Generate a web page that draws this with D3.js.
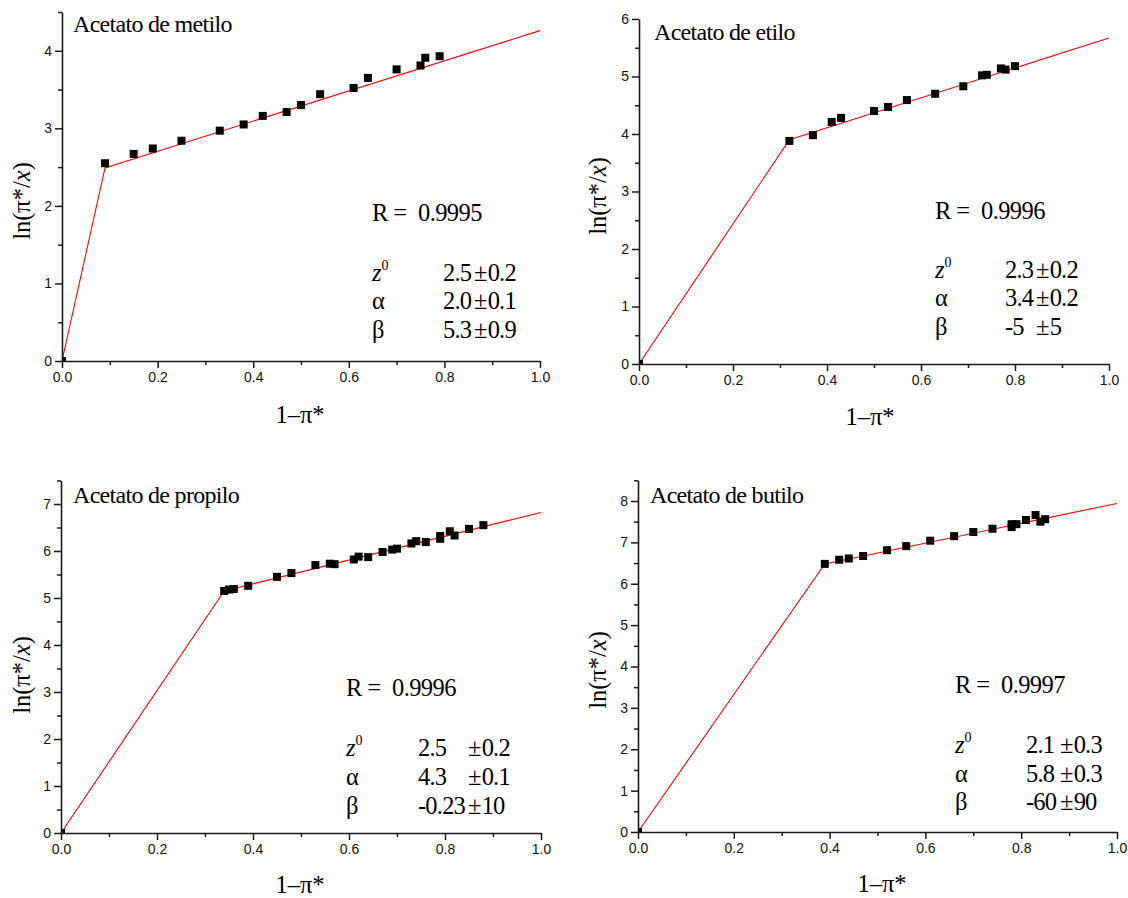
<!DOCTYPE html>
<html><head><meta charset="utf-8">
<script src="https://cdn.jsdelivr.net/npm/d3@7"></script>
<style>
body{margin:0;background:#fff;}
svg{display:block;}
.tick text{font-family:"Liberation Sans",Arial,sans-serif;font-size:14px;fill:#111;}
</style></head><body>
<svg id="chart" width="1128" height="898"></svg>
<script>
// ---- Data ----
const xTickValues = [0, 0.2, 0.4, 0.6, 0.8, 1.0];

const metiloX = [0, 0.09, 0.15, 0.19, 0.25, 0.33, 0.38, 0.42, 0.47, 0.50, 0.54, 0.61, 0.64, 0.70, 0.75, 0.76, 0.79];
const metiloY = [0, 2.55, 2.67, 2.74, 2.84, 2.97, 3.05, 3.16, 3.21, 3.30, 3.44, 3.52, 3.65, 3.76, 3.81, 3.91, 3.93];
const metiloFitX = [0, 0.09, 1.0];
const metiloFitY = [0, 2.49, 4.26];

const etiloX = [0, 0.32, 0.37, 0.41, 0.43, 0.50, 0.53, 0.57, 0.63, 0.69, 0.73, 0.74, 0.77, 0.78, 0.80];
const etiloY = [0, 3.88, 3.98, 4.21, 4.28, 4.40, 4.47, 4.59, 4.70, 4.83, 5.02, 5.03, 5.14, 5.12, 5.18];
const etiloFitX = [0, 0.32, 1.0];
const etiloFitY = [0, 3.90, 5.67];

const propiloX = [0, 0.34, 0.35, 0.36, 0.39, 0.45, 0.48, 0.53, 0.56, 0.57, 0.61, 0.62, 0.64, 0.67, 0.69, 0.70, 0.73, 0.74, 0.76, 0.79, 0.79, 0.81, 0.82, 0.85, 0.88];
const propiloY = [0, 5.15, 5.18, 5.19, 5.26, 5.45, 5.53, 5.70, 5.73, 5.72, 5.82, 5.88, 5.87, 5.98, 6.03, 6.05, 6.16, 6.21, 6.19, 6.26, 6.32, 6.42, 6.33, 6.47, 6.55];
const propiloFitX = [0, 0.34, 1.0];
const propiloFitY = [0, 5.15, 6.82];

const butiloX = [0, 0.39, 0.42, 0.44, 0.47, 0.52, 0.56, 0.61, 0.66, 0.70, 0.74, 0.78, 0.78, 0.79, 0.81, 0.83, 0.84, 0.85];
const butiloY = [0, 6.48, 6.58, 6.61, 6.67, 6.81, 6.91, 7.04, 7.15, 7.25, 7.33, 7.37, 7.44, 7.44, 7.54, 7.66, 7.50, 7.56];
const butiloFitX = [0, 0.39, 1.0];
const butiloFitY = [0, 6.48, 7.94];

const titles = ["Acetato de metilo", "Acetato de etilo", "Acetato de propilo", "Acetato de butilo"];
const rValues = ["0.9995", "0.9996", "0.9996", "0.9997"];
const paramValues = [["2.5", "2.0", "5.3"], ["2.3", "3.4", "-5"], ["2.5", "4.3", "-0.23"], ["2.1", "5.8", "-60"]];
const paramErrors = [["0.2", "0.1", "0.9"], ["0.2", "0.2", "5"], ["0.2", "0.1", "10"], ["0.3", "0.3", "90"]];
const yMaxes = [4.5, 6, 7.5, 8.5];
const yMajorTicks = [[0,1,2,3,4],[0,1,2,3,4,5,6],[0,1,2,3,4,5,6,7],[0,1,2,3,4,5,6,7,8]];

// ---- Layout ----
const layouts = [
  {x0:62, x1:540, y0:361, yTop:12, title:[73,32], r:[372,221], rows:[281,309,338], vcol:443, ecol:474, xl:[300,423], yl:[21,201]},
  {x0:639, x1:1109, y0:364, yTop:19, title:[654,40], r:[935,219], rows:[278,306,335], vcol:1005, ecol:1036, xl:[870,425], yl:[597,196]},
  {x0:61, x1:541, y0:833, yTop:480.5, title:[73,503], r:[346,696], rows:[756,785,814], vcol:418, ecol:468, xl:[300,893], yl:[21,675]},
  {x0:638, x1:1117, y0:832, yTop:480.3, title:[650,503], r:[955,693], rows:[753,782,810], vcol:1026, ecol:1060, xl:[882,892], yl:[597,670]}
];
const seriesX = [metiloX, etiloX, propiloX, butiloX];
const seriesY = [metiloY, etiloY, propiloY, butiloY];
const fitX = [metiloFitX, etiloFitX, propiloFitX, butiloFitX];
const fitY = [metiloFitY, etiloFitY, propiloFitY, butiloFitY];

const SERIF = "'Liberation Serif','Times New Roman',Times,serif";
const svg = d3.select("#chart");
const axisColor = "#1a1a1a";

function stext(g, x, y, size) {
  return g.append("text").attr("x", x).attr("y", y).attr("font-family", SERIF)
    .attr("font-size", size).attr("fill", "#000");
}

layouts.forEach((L, i) => {
  const x = d3.scaleLinear().domain([0, 1]).range([L.x0, L.x1]);
  const y = d3.scaleLinear().domain([0, yMaxes[i]]).range([L.y0, L.yTop]);
  const g = svg.append("g");

  const clipId = "clip" + i;
  svg.append("clipPath").attr("id", clipId).append("rect")
    .attr("x", L.x0).attr("y", L.yTop - 10).attr("width", L.x1 - L.x0 + 10).attr("height", L.y0 - L.yTop + 10);

  // fit line
  const fitData = fitX[i].map((v, k) => [v, fitY[i][k]]);
  g.append("path").datum(fitData)
    .attr("d", d3.line().x(d => x(d[0])).y(d => y(d[1])))
    .attr("fill", "none").attr("stroke", "#ff0000").attr("stroke-width", 1.1);

  // points
  const pts = seriesX[i].map((v, k) => [v, seriesY[i][k]]);
  const s = 8;
  g.append("g").attr("clip-path", `url(#${clipId})`).selectAll("rect").data(pts).join("rect")
    .attr("x", d => x(d[0]) - s/2).attr("y", d => y(d[1]) - s/2)
    .attr("width", s).attr("height", s).attr("fill", "#000");

  // x axis: minor + major
  const xMinor = d3.range(0.1, 1.0, 0.2);
  g.append("g").attr("transform", `translate(0,${L.y0})`)
    .call(d3.axisBottom(x).tickValues(xMinor).tickSize(4).tickFormat(""))
    .call(a => a.select(".domain").remove())
    .call(a => a.selectAll("line").attr("stroke", axisColor).attr("stroke-width", 1.5));
  g.append("g").attr("transform", `translate(0,${L.y0})`)
    .call(d3.axisBottom(x).tickValues(xTickValues).tickSize(7).tickPadding(4).tickSizeOuter(0).tickFormat(d3.format(".1f")))
    .call(a => a.select(".domain").attr("stroke", axisColor).attr("stroke-width", 1.6))
    .call(a => a.selectAll("line").attr("stroke", axisColor).attr("stroke-width", 1.5));

  // y axis: minor + major
  const yMinor = yMajorTicks[i].map(v => v + 0.5).filter(v => v <= yMaxes[i]);
  g.append("g").attr("transform", `translate(${L.x0},0)`)
    .call(d3.axisLeft(y).tickValues(yMinor).tickSize(4).tickFormat(""))
    .call(a => a.select(".domain").remove())
    .call(a => a.selectAll("line").attr("stroke", axisColor).attr("stroke-width", 1.5));
  g.append("g").attr("transform", `translate(${L.x0},0)`)
    .call(d3.axisLeft(y).tickValues(yMajorTicks[i]).tickSize(7).tickPadding(3).tickSizeOuter(0).tickFormat(d3.format("d")))
    .call(a => a.select(".domain").attr("stroke", axisColor).attr("stroke-width", 1.6))
    .call(a => a.selectAll("line").attr("stroke", axisColor).attr("stroke-width", 1.5));

  // title
  stext(g, L.title[0], L.title[1], 24).attr("letter-spacing", "-0.7px").text(titles[i]);

  // R value
  const fs = 24.5;
  const rt = stext(g, L.r[0], L.r[1], fs).attr("letter-spacing", "-0.6px");
  rt.append("tspan").text("R = ");
  rt.append("tspan").attr("dx", 6).text(rValues[i]);

  // parameters
  const labels = ["z", "\u03b1", "\u03b2"];
  L.rows.forEach((yy, k) => {
    const t = stext(g, L.r[0], yy, fs);
    if (k === 0) {
      t.append("tspan").attr("font-style", "italic").text("z");
      t.append("tspan").attr("font-size", 14).attr("dy", -11).text("0");
    } else {
      t.text(labels[k]);
    }
    stext(g, L.vcol, yy, fs).attr("letter-spacing", "-0.8px").text(paramValues[i][k]);
    const e = stext(g, L.ecol, yy, fs).attr("letter-spacing", "-0.8px");
    e.append("tspan").text("\u00b1");
    e.append("tspan").attr("dx", 1).text(paramErrors[i][k]);
  });

  // axis titles
  stext(g, L.xl[0], L.xl[1], fs).attr("text-anchor", "middle").text("1\u2013\u03c0*");
  const yt = g.append("text").attr("font-family", SERIF).attr("font-size", fs)
    .attr("transform", `translate(${L.yl[0] + 9},${L.yl[1]}) rotate(-90)`)
    .attr("text-anchor", "middle");
  yt.append("tspan").text("ln(\u03c0*/");
  yt.append("tspan").attr("font-style", "italic").text("x");
  yt.append("tspan").text(")");
});
</script>
</body></html>
